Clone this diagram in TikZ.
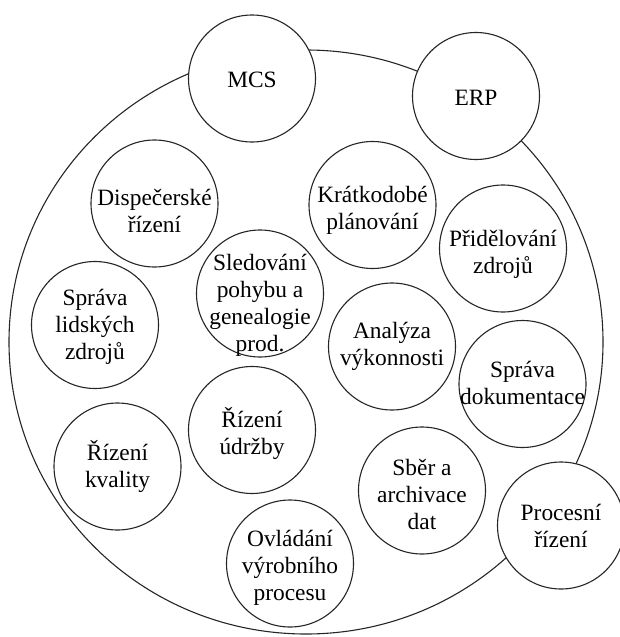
\documentclass[tikz,border=0pt]{standalone}
\usepackage{fontspec}
\setmainfont{Liberation Serif}
\usetikzlibrary{shapes.geometric}
\begin{document}
\begin{tikzpicture}[x=1pt,y=-1pt,
  bubble/.style={circle,draw=black!85,line width=1.1pt,fill=white,minimum size=127pt,inner sep=0pt},
  lbl/.style={inner sep=0pt,align=center,font=\fontsize{23.4pt}{27pt}\selectfont},
  rim/.style={ellipse,draw=black!85,line width=1.1pt,minimum width=594pt,minimum height=584pt,inner sep=0pt}]
\useasboundingbox (0,0) rectangle (619,637);
\node[rim] (outer) at (306,342) {};
\node[bubble] (mcs) at (252,78.5) {};
\node[lbl] (mcst) at ([yshift=-1pt]mcs.center) {MCS};
\node[bubble] (erp) at (476,96) {};
\node[lbl] (erpt) at ([yshift=-2pt]erp.center) {ERP};
\node[bubble] (disp) at (154.5,203.5) {};
\node[lbl] (dispt) at ([yshift=-7pt]disp.center) {Dispečerské\\řízení};
\node[bubble] (krat) at (372.5,205) {};
\node[lbl] (kratt) at ([yshift=-5pt]krat.center) {Krátkodobé\\plánování};
\node[bubble] (prid) at (503,248.5) {};
\node[lbl] (pridt) at ([yshift=-6pt]prid.center) {Přidělování\\zdrojů};
\node[bubble] (sled) at (260,293.5) {};
\node[lbl] (sledt) at ([yshift=-12pt]sled.center) {Sledování\\pohybu a\\genealogie\\prod.};
\node[bubble] (lid) at (95,325) {};
\node[lbl] (lidt) at ([yshift=-2pt]lid.center) {Správa\\lidských\\zdrojů};
\node[bubble] (anal) at (392,346.5) {};
\node[lbl] (analt) at (anal.center) {Analýza\\výkonnosti};
\node[bubble] (dok) at (522.5,384) {};
\node[lbl] (dokt) at ([yshift=1pt]dok.center) {Správa\\dokumentace};
\node[bubble] (udr) at (252,430) {};
\node[lbl] (udrt) at ([yshift=-3pt]udr.center) {Řízení\\údržby};
\node[bubble] (kval) at (117.5,466.5) {};
\node[lbl] (kvalt) at (kval.center) {Řízení\\kvality};
\node[bubble] (sber) at (422,490.5) {};
\node[lbl] (sbert) at ([yshift=-4pt]sber.center) {Sběr a\\archivace\\dat};
\node[bubble] (ovl) at (290,563.5) {};
\node[lbl] (ovlt) at ([yshift=-4pt]ovl.center) {Ovládání\\výrobního\\procesu};
\node[bubble] (proc) at (561,525.5) {};
\node[lbl] (proct) at (proc.center) {Procesní\\řízení};
\end{tikzpicture}
\end{document}
